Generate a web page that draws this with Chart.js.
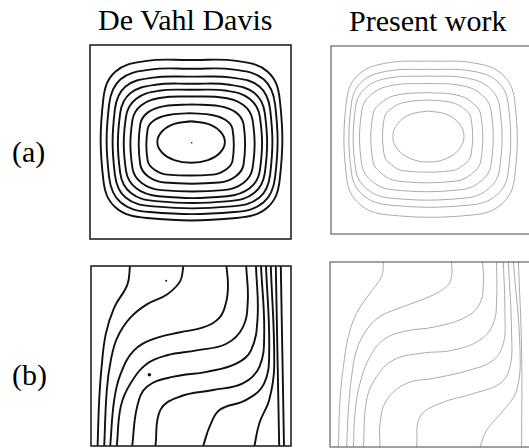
<!DOCTYPE html>
<html>
<head>
<meta charset="utf-8">
<script src="https://cdn.jsdelivr.net/npm/chart.js@4"></script>
<style>
  body { margin: 0; width: 529px; height: 448px; overflow: hidden; background: #fff; position: relative;
         font-family: "Liberation Serif", "Times New Roman", serif; }
  .lbl { position: absolute; font-size: 30px; line-height: 1; color: #000; white-space: nowrap; }
  .panel { position: absolute; }
</style>
</head>
<body>
<div class="lbl" style="left:98px;top:5px">De Vahl Davis</div>
<div class="lbl" style="left:349px;top:6px">Present work</div>
<div class="lbl" style="left:12px;top:137px">(a)</div>
<div class="lbl" style="left:12px;top:360px">(b)</div>

<canvas id="davisA" class="panel"></canvas>
<canvas id="presentA" class="panel"></canvas>
<canvas id="davisB" class="panel"></canvas>
<canvas id="presentB" class="panel"></canvas>

<script>
// cavity coordinates are in percent of the wall length, y measured upwards

// (a) streamlines, De Vahl Davis
const davisStream = [
  [[50.5,92.3],[28.2,91.8],[12.6,86.2],[6.6,71.9],[6.6,30.7],[12.6,16.4],[28.2,10.8],[72.8,10.8],[88.4,16.4],[94.4,30.7],[94.4,71.9],[88.4,86.2],[72.8,91.8],[50.5,92.3]],
  [[50.8,87.8],[29.8,87.3],[15.2,82.3],[9.5,69.3],[9.5,31.9],[15.2,18.9],[29.8,13.9],[71.8,13.9],[86.4,18.9],[92.1,31.9],[92.1,69.3],[86.4,82.3],[71.8,87.3],[50.8,87.8]],
  [[51.0,83.7],[31.4,83.2],[17.7,78.6],[12.4,66.9],[12.4,33.1],[17.7,21.4],[31.4,16.8],[70.6,16.8],[84.3,21.4],[89.6,33.1],[89.6,66.9],[84.3,78.6],[70.6,83.2],[51.0,83.7]],
  [[51.0,80.1],[32.6,79.5],[20.2,75.2],[15.0,64.8],[15.0,34.2],[20.2,23.8],[32.6,19.5],[69.4,19.5],[81.8,23.8],[87.0,34.2],[87.0,64.8],[81.8,75.2],[69.4,79.5],[51.0,80.1]],
  [[51.2,77.0],[34.2,76.4],[23.0,72.3],[17.9,63.1],[17.9,35.3],[23.0,26.1],[34.2,22.0],[68.2,22.0],[79.4,26.1],[84.5,35.3],[84.5,63.1],[79.4,72.3],[68.2,76.4],[51.2,77.0]],
  [[51.0,73.5],[35.6,72.8],[25.7,69.1],[21.1,61.3],[21.1,36.7],[25.7,28.9],[35.6,25.2],[66.4,25.2],[76.3,28.9],[80.9,36.7],[80.9,61.3],[76.3,69.1],[66.4,72.8],[51.0,73.5]],
  [[50.7,69.4],[37.1,68.5],[29.0,65.4],[25.0,59.2],[25.0,38.4],[29.0,32.2],[37.1,29.1],[64.3,29.1],[72.4,32.2],[76.4,38.4],[76.4,59.2],[72.4,65.4],[64.3,68.5],[50.7,69.4]],
  [[49.8,64.9],[38.4,63.8],[32.1,61.3],[28.7,56.7],[28.7,40.3],[32.1,35.7],[38.4,33.2],[61.2,33.2],[67.5,35.7],[70.9,40.3],[70.9,56.7],[67.5,61.3],[61.2,63.8],[49.8,64.9]],
  [[50.3,60.7],[41.9,59.3],[35.8,55.4],[33.5,50.0],[35.8,44.6],[41.9,40.7],[50.3,39.3],[58.7,40.7],[64.8,44.6],[67.1,50.0],[64.8,55.4],[58.7,59.3],[50.3,60.7]]
];
const davisStreamDots = [[50.6, 49.6, 0.8]];

// (a) streamlines, present computation
const presentStream = [
  [[49.8,92.0],[28.2,91.0],[14.0,85.0],[7.8,71.3],[7.8,29.9],[14.0,16.2],[28.2,10.2],[71.4,10.2],[85.6,16.2],[91.8,29.9],[91.8,71.3],[85.6,85.0],[71.4,91.0],[49.8,92.0]],
  [[49.4,87.6],[29.3,86.8],[16.0,81.5],[10.2,69.4],[10.2,32.8],[16.0,20.7],[29.3,15.4],[69.5,15.4],[82.8,20.7],[88.6,32.8],[88.6,69.4],[82.8,81.5],[69.5,86.8],[49.4,87.6]],
  [[48.3,84.0],[29.7,83.1],[17.9,78.2],[12.3,67.6],[12.3,34.6],[17.9,24.0],[29.7,19.1],[66.9,19.1],[78.7,24.0],[84.3,34.6],[84.3,67.6],[78.7,78.2],[66.9,83.1],[48.3,84.0]],
  [[47.7,80.1],[30.9,79.1],[20.6,74.6],[15.4,65.7],[15.4,36.9],[20.6,28.0],[30.9,23.5],[64.5,23.5],[74.8,28.0],[80.0,36.9],[80.0,65.7],[74.8,74.6],[64.5,79.1],[47.7,80.1]],
  [[47.9,75.2],[33.7,74.1],[25.5,70.2],[20.9,63.2],[20.9,39.0],[25.5,32.0],[33.7,28.1],[62.1,28.1],[70.3,32.0],[74.9,39.0],[74.9,63.2],[70.3,70.2],[62.1,74.1],[47.9,75.2]],
  [[48.3,71.3],[36.6,70.0],[30.4,66.9],[26.6,61.6],[26.6,42.0],[30.4,36.7],[36.6,33.6],[60.0,33.6],[66.2,36.7],[70.0,42.0],[70.0,61.6],[66.2,66.9],[60.0,70.0],[48.3,71.3]],
  [[48.7,65.4],[39.8,63.7],[33.3,58.7],[30.9,51.9],[33.3,45.1],[39.8,40.1],[48.7,38.3],[57.6,40.1],[64.1,45.1],[66.5,51.9],[64.1,58.7],[57.6,63.7],[48.7,65.4]]
];

// (b) isotherms, De Vahl Davis
const davisTemp = [
  [[19.5,100],[18.2,89.7],[11.6,76.9],[7.4,62.3],[5.3,44.0],[4.1,25.6],[3.3,0]],
  [[46.2,100],[44.6,91.6],[38.0,84.2],[28.1,78.8],[19.8,71.4],[13.2,60.4],[9.9,47.6],[7.9,31.1],[6.6,0]],
  [[67.7,100],[68.5,89.7],[67.7,80.6],[64.4,71.4],[56.1,65.9],[44.6,63.2],[31.4,59.5],[21.5,53.1],[14.9,40.3],[11.6,25.6],[9.6,0]],
  [[77.6,100],[78.4,80.6],[75.9,65.9],[67.7,56.8],[52.8,53.1],[38.0,50.4],[28.1,45.8],[19.8,34.8],[14.9,22.0],[12.9,0]],
  [[82.5,100],[83.3,71.4],[80.0,53.1],[72.6,45.8],[57.8,41.2],[41.3,38.5],[28.1,33.0],[23.1,22.0],[20.6,0]],
  [[85.0,100],[86.6,62.3],[84.2,44.0],[75.9,34.8],[61.1,31.1],[44.6,27.5],[34.7,20.1],[32.2,0]],
  [[87.5,100],[89.1,53.1],[86.6,34.8],[77.6,25.6],[64.4,20.1],[59.4,11.0],[56.1,0]],
  [[89.9,100],[91.6,44.0],[89.1,25.6],[84.2,12.8],[81.7,0]],
  [[92.4,100],[94.1,0]],
  [[94.9,100],[96.5,0]]
];
const davisTempDots = [[37.6, 91.8, 1.0], [29.2, 39.6, 1.8]];

// (b) isotherms, present computation
const presentTemp = [
  [[26.7,100],[25.8,92.2],[20.0,83.2],[13.3,72.3],[9.2,59.7],[6.7,43.4],[5.0,25.3],[4.2,0]],
  [[60.8,100],[60.8,92.2],[58.3,86.8],[50.0,81.4],[36.7,75.9],[25.0,70.5],[18.3,63.3],[13.3,52.4],[10.8,38.0],[9.2,19.9],[8.3,0]],
  [[76.3,100],[76.7,88.6],[75.0,77.8],[68.3,70.5],[53.3,65.1],[36.7,62.4],[26.7,57.9],[20.0,48.8],[15.0,34.4],[12.5,18.1],[11.7,0]],
  [[83.3,100],[83.3,79.6],[81.7,66.9],[75.0,57.9],[61.7,52.4],[45.0,50.6],[31.7,47.0],[23.3,38.0],[18.3,25.3],[16.7,0]],
  [[86.7,100],[87.5,70.5],[86.7,56.1],[81.7,47.0],[70.0,41.6],[51.7,37.1],[38.3,34.4],[28.3,25.3],[25.0,12.7],[25.0,0]],
  [[89.2,100],[90.8,61.5],[90.0,43.4],[85.0,34.4],[71.7,28.9],[55.0,23.5],[45.0,16.3],[43.3,0]],
  [[91.7,100],[95.0,52.4],[93.3,30.7],[86.7,19.9],[78.3,9.0],[75.0,0]],
  [[94.2,100],[95.8,52.0],[95.8,0]]
];

const styles = {
  davis:   { color: '#111', width: 1.9, frame: '#222', frameWidth: 1.6 },
  present: { color: '#aaa', width: 1.0, frame: '#444', frameWidth: 1.0 }
};

// square frame round each cavity
const framePlugin = {
  id: 'frame',
  afterDraw(chart, args, opts) {
    const a = chart.chartArea;
    const ctx = chart.ctx;
    ctx.save();
    ctx.strokeStyle = opts.color;
    ctx.lineWidth = opts.width;
    ctx.strokeRect(a.left, a.top, a.right - a.left, a.bottom - a.top);
    ctx.restore();
  }
};

function drawPanel(id, box, lines, style, dots) {
  const pad = 3;
  const canvas = document.getElementById(id);
  canvas.width = box.w + pad * 2;
  canvas.height = box.h + pad * 2;
  canvas.style.left = (box.x - pad) + 'px';
  canvas.style.top = (box.y - pad) + 'px';

  const datasets = lines.map(pts => ({
    data: pts.map(p => ({ x: p[0], y: p[1] })),
    showLine: true,
    borderColor: style.color,
    borderWidth: style.width,
    pointRadius: 0,
    tension: 0.4,
    fill: false
  }));
  (dots || []).forEach(d => {
    datasets.push({
      data: [{ x: d[0], y: d[1] }],
      showLine: false,
      pointRadius: d[2],
      pointBorderWidth: 0,
      pointBackgroundColor: style.color
    });
  });

  new Chart(canvas, {
    type: 'scatter',
    data: { datasets },
    options: {
      responsive: false,
      animation: false,
      devicePixelRatio: 1,
      layout: { padding: pad },
      plugins: {
        legend: { display: false },
        tooltip: { enabled: false },
        frame: { color: style.frame, width: style.frameWidth }
      },
      scales: {
        x: { type: 'linear', min: 0, max: 100, display: false },
        y: { type: 'linear', min: 0, max: 100, display: false }
      }
    },
    plugins: [framePlugin]
  });
}

drawPanel('davisA',   { x: 89,  y: 44,  w: 203, h: 196 }, davisStream,   styles.davis,   davisStreamDots);
drawPanel('presentA', { x: 331, y: 46,  w: 200, h: 188 }, presentStream, styles.present);
drawPanel('davisB',   { x: 90,  y: 265, w: 202, h: 182 }, davisTemp,     styles.davis,   davisTempDots);
drawPanel('presentB', { x: 330, y: 262, w: 200, h: 185 }, presentTemp,   styles.present);
</script>
</body>
</html>
